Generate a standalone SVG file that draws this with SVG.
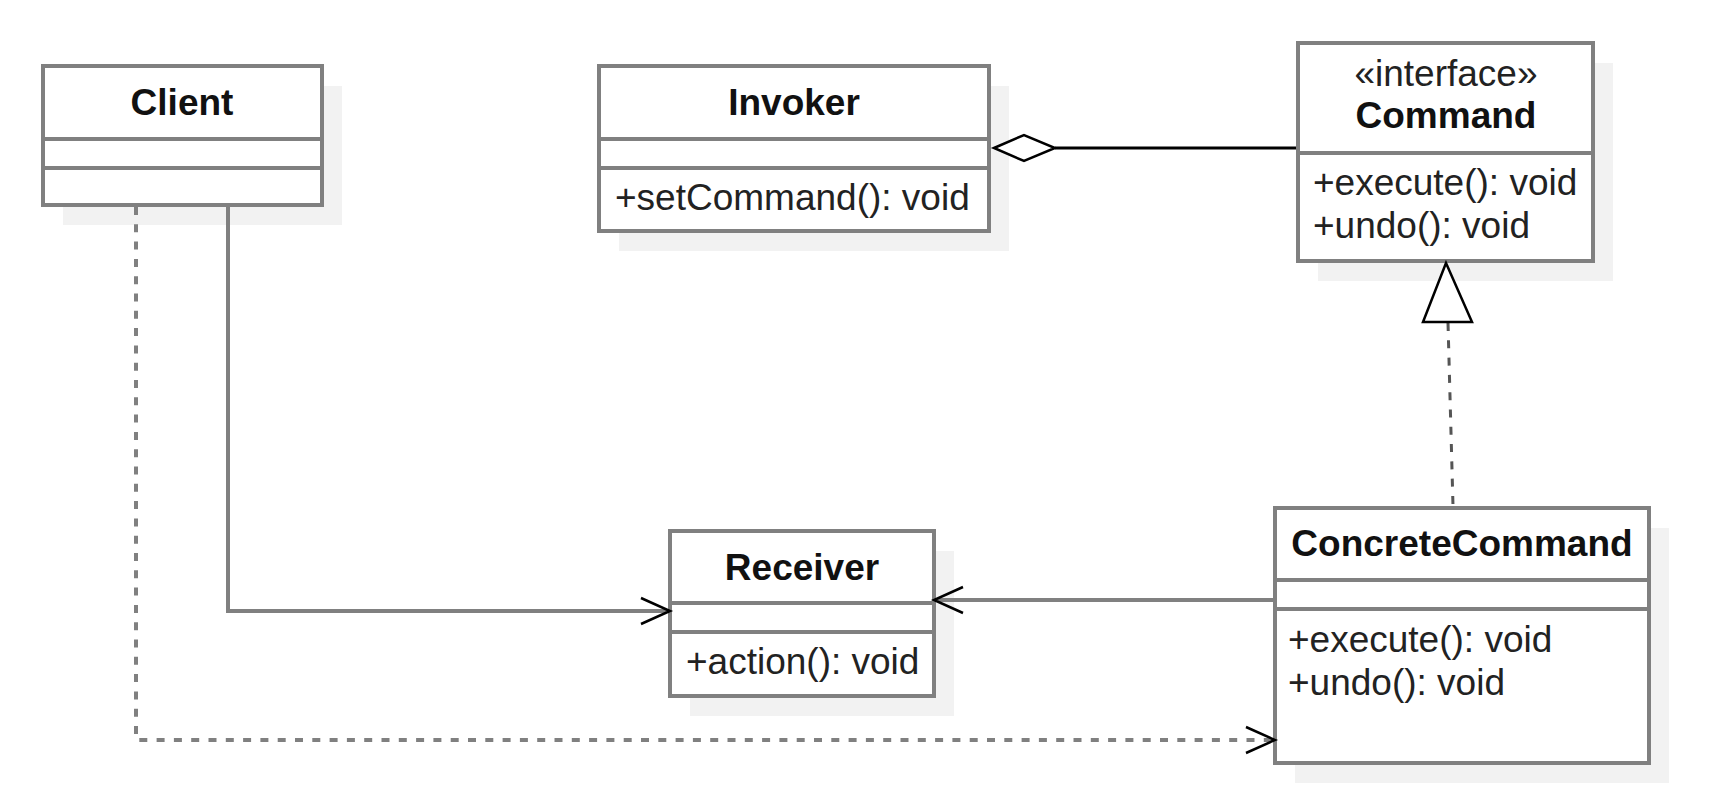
<svg xmlns="http://www.w3.org/2000/svg" width="1730" height="802" viewBox="0 0 1730 802">
  <style>
    .shadow { fill: #f2f2f2; stroke: none; }
    .box { fill: #ffffff; stroke: #808080; stroke-width: 4; }
    .div { stroke: #808080; stroke-width: 4; fill: none; }
    .title { font-family: "Liberation Sans", Arial, sans-serif; font-size: 37px; font-weight: bold; fill: #111; text-anchor: middle; }
    .stereo { font-family: "Liberation Sans", Arial, sans-serif; font-size: 37px; fill: #222; text-anchor: middle; }
    .member { font-family: "Liberation Sans", Arial, sans-serif; font-size: 37px; fill: #222; }
    .line { stroke: #808080; stroke-width: 4; fill: none; }
    .dash { stroke: #808080; stroke-width: 4; fill: none; stroke-dasharray: 8 9.3; }
    .head { stroke: #000; stroke-width: 2.5; fill: none; }
  </style>

  <g id="client">
    <rect class="shadow" x="63" y="86" width="279" height="139"/>
    <rect class="box" x="43" y="66" width="279" height="139"/>
    <line class="div" x1="43" y1="139" x2="322" y2="139"/>
    <line class="div" x1="43" y1="168" x2="322" y2="168"/>
    <text class="title" x="182" y="115">Client</text>
  </g>

  <g id="invoker">
    <rect class="shadow" x="619" y="86" width="390" height="165"/>
    <rect class="box" x="599" y="66" width="390" height="165"/>
    <line class="div" x1="599" y1="139" x2="989" y2="139"/>
    <line class="div" x1="599" y1="168" x2="989" y2="168"/>
    <text class="title" x="794" y="115">Invoker</text>
    <text class="member" x="615" y="210">+setCommand(): void</text>
  </g>

  <g id="command">
    <rect class="shadow" x="1318" y="63" width="295" height="218"/>
    <rect class="box" x="1298" y="43" width="295" height="218"/>
    <line class="div" x1="1298" y1="153" x2="1593" y2="153"/>
    <text class="stereo" x="1446" y="86">«interface»</text>
    <text class="title" x="1446" y="128">Command</text>
    <text class="member" x="1313" y="195">+execute(): void</text>
    <text class="member" x="1313" y="238">+undo(): void</text>
  </g>

  <g id="receiver">
    <rect class="shadow" x="690" y="551" width="264" height="165"/>
    <rect class="box" x="670" y="531" width="264" height="165"/>
    <line class="div" x1="670" y1="603" x2="934" y2="603"/>
    <line class="div" x1="670" y1="632" x2="934" y2="632"/>
    <text class="title" x="802" y="580">Receiver</text>
    <text class="member" x="686" y="674">+action(): void</text>
  </g>

  <g id="concretecommand">
    <rect class="shadow" x="1295" y="528" width="374" height="255"/>
    <rect class="box" x="1275" y="508" width="374" height="255"/>
    <line class="div" x1="1275" y1="580" x2="1649" y2="580"/>
    <line class="div" x1="1275" y1="609" x2="1649" y2="609"/>
    <text class="title" x="1462" y="556">ConcreteCommand</text>
    <text class="member" x="1288" y="652">+execute(): void</text>
    <text class="member" x="1288" y="695">+undo(): void</text>
  </g>

  <g id="connectors">
    <!-- Invoker aggregation Command -->
    <line x1="1055" y1="148" x2="1296" y2="148" stroke="#000" stroke-width="3"/>
    <polygon points="994,148 1024,135 1055,148 1024,161" fill="#fff" stroke="#000" stroke-width="2.5"/>
    <!-- ConcreteCommand realizes Command -->
    <line x1="1448" y1="323" x2="1453" y2="506" stroke="#555" stroke-width="3" stroke-dasharray="8 9.3"/>
    <polygon points="1446,263 1472,322 1423,322" fill="#fff" stroke="#000" stroke-width="2.5"/>
    <!-- Client -> Receiver -->
    <polyline class="line" points="228,207 228,611 668,611"/>
    <polyline class="head" points="641,598 670,611 641,624"/>
    <!-- Client ..> ConcreteCommand -->
    <polyline class="dash" points="136,207 136,740 1273,740"/>
    <polyline class="head" points="1246,727 1275,740 1246,753"/>
    <!-- ConcreteCommand -> Receiver -->
    <line class="line" x1="1273" y1="600" x2="936" y2="600"/>
    <polyline class="head" points="963,587 934,600 963,613"/>
  </g>
</svg>
